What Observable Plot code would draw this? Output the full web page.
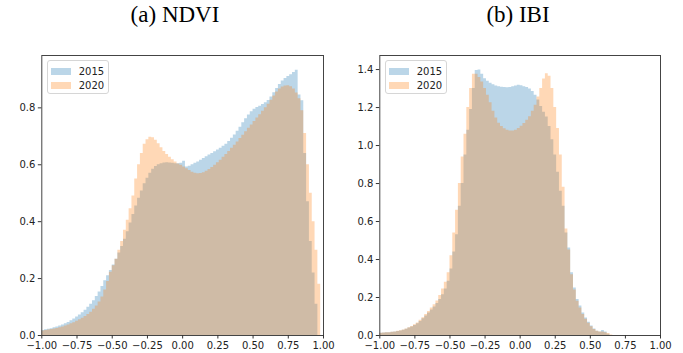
<!DOCTYPE html>
<html><head><meta charset="utf-8">
<script src="https://cdn.jsdelivr.net/npm/d3@7"></script>
<script src="https://cdn.jsdelivr.net/npm/@observablehq/plot@0.6"></script>
<style>
body{margin:0;background:#fff;}
#root{position:relative;width:683px;height:353px;overflow:hidden;}
.title{position:absolute;top:2px;font-family:"Liberation Serif",serif;font-size:23px;color:#000;transform:translateX(-50%);white-space:nowrap;}
.panel{position:absolute;top:45px;}
.legend{position:absolute;box-sizing:border-box;width:62px;height:34px;background:rgba(255,255,255,0.8);border:1px solid #d6d6d6;border-radius:3px;font-family:"DejaVu Sans",sans-serif;font-size:10px;color:#222;}
.item{position:absolute;left:3px;height:10px;display:flex;align-items:center;}
.sw{width:20px;height:7px;margin-right:8px;}
</style>
</head><body>
<div id="root"></div>
<script>
// ---- data ----
const panelTitles = ["(a) NDVI", "(b) IBI"];
const seriesNames = ["2015", "2020"];
const binRange = [-1, 1];           // 100 bins of width 0.02
const xTicks = [-1, -0.75, -0.5, -0.25, 0, 0.25, 0.5, 0.75, 1];
const yTicksNDVI = [0, 0.2, 0.4, 0.6, 0.8];
const yTicksIBI = [0, 0.2, 0.4, 0.6, 0.8, 1.0, 1.2, 1.4];
const yMaxNDVI = 0.984;
const yMaxIBI = 1.474;

const ndvi2015 = [
0.018,0.020,0.022,0.024,0.027,0.030,0.033,0.037,0.041,0.046,
0.052,0.058,0.065,0.072,0.080,0.089,0.099,0.110,0.122,0.137,
0.153,0.172,0.192,0.210,0.228,0.248,0.268,0.290,0.313,0.338,
0.365,0.395,0.425,0.455,0.482,0.508,0.533,0.553,0.570,0.584,
0.594,0.600,0.604,0.606,0.607,0.606,0.605,0.604,0.604,0.605,
0.612,0.592,0.595,0.600,0.605,0.610,0.616,0.622,0.628,0.634,
0.640,0.646,0.652,0.658,0.665,0.672,0.682,0.693,0.705,0.718,
0.732,0.748,0.762,0.775,0.786,0.795,0.801,0.806,0.812,0.818,
0.826,0.838,0.853,0.868,0.882,0.894,0.903,0.910,0.916,0.924,
0.932,0.845,0.825,0.640,0.470,0.330,0.220,0.110,0,0];

const ndvi2020 = [
0.016,0.018,0.019,0.021,0.023,0.025,0.027,0.030,0.033,0.037,
0.041,0.045,0.050,0.055,0.061,0.067,0.074,0.082,0.092,0.104,
0.118,0.135,0.160,0.190,0.222,0.245,0.268,0.300,0.330,0.370,
0.405,0.445,0.490,0.550,0.600,0.640,0.672,0.688,0.697,0.695,
0.686,0.674,0.660,0.647,0.636,0.626,0.618,0.610,0.603,0.598,
0.592,0.586,0.580,0.574,0.570,0.568,0.569,0.572,0.577,0.583,
0.590,0.598,0.607,0.616,0.626,0.636,0.647,0.658,0.669,0.680,
0.692,0.704,0.716,0.728,0.740,0.752,0.764,0.776,0.788,0.800,
0.813,0.827,0.842,0.856,0.866,0.873,0.877,0.878,0.874,0.866,
0.852,0.832,0.790,0.710,0.600,0.500,0.400,0.300,0.180,0];

const ibi2015 = [
0.012,0.013,0.014,0.015,0.017,0.019,0.021,0.024,0.028,0.033,
0.039,0.045,0.052,0.062,0.074,0.088,0.102,0.118,0.134,0.150,
0.168,0.190,0.215,0.245,0.285,0.350,0.440,0.530,0.680,0.800,
0.950,1.080,1.190,1.300,1.395,1.398,1.375,1.352,1.338,1.328,
1.320,1.313,1.310,1.307,1.305,1.304,1.305,1.309,1.314,1.318,
1.315,1.310,1.305,1.297,1.285,1.265,1.240,1.205,1.175,1.150,
1.100,1.030,0.950,0.860,0.760,0.680,0.540,0.460,0.330,0.250,
0.190,0.155,0.118,0.092,0.070,0.050,0.034,0.022,0.018,0.026,
0.018,0.006,0,0,0,0,0,0,0,0,
0,0,0,0,0,0,0,0,0,0];

const ibi2020 = [
0.012,0.013,0.014,0.015,0.017,0.019,0.022,0.025,0.029,0.034,
0.041,0.048,0.056,0.066,0.080,0.094,0.110,0.126,0.145,0.162,
0.182,0.210,0.245,0.280,0.330,0.420,0.540,0.660,0.800,0.940,
1.060,1.200,1.300,1.375,1.375,1.358,1.335,1.300,1.265,1.225,
1.180,1.145,1.118,1.100,1.088,1.080,1.076,1.077,1.080,1.090,
1.102,1.116,1.133,1.152,1.180,1.212,1.255,1.300,1.350,1.378,
1.365,1.300,1.200,1.090,0.950,0.780,0.560,0.450,0.320,0.240,
0.180,0.145,0.110,0.085,0.064,0.046,0.032,0.022,0.018,0.018,
0.014,0.010,0.003,0,0,0,0,0,0,0,
0,0,0,0,0,0,0,0,0,0];

const colors = ["#1f77b4", "#ff7f0e"];

// ---- build ----
function steps(vals) {
  const [lo, hi] = binRange, w = (hi - lo) / vals.length;
  const pts = vals.map((v, i) => ({x: lo + i * w, y: v}));
  pts.push({x: hi, y: 0});
  return pts;
}
const fmtX = d3.format(".2f"), fmtY = d3.format(".1f");

function panel(s1, s2, yMax, yTicks, width, ml, mr) {
  return Plot.plot({
    width, height: 308, marginLeft: ml, marginRight: mr, marginTop: 10, marginBottom: 18,
    x: {domain: [-1, 1]},
    y: {domain: [0, yMax]},
    style: {fontFamily: "DejaVu Sans", fontSize: "10px", color: "#222", background: "transparent", overflow: "visible"},
    marks: [
      Plot.areaY(steps(s1), {x: "x", y: "y", curve: "step-after", fill: colors[0], fillOpacity: 0.3}),
      Plot.areaY(steps(s2), {x: "x", y: "y", curve: "step-after", fill: colors[1], fillOpacity: 0.3}),
      Plot.frame({stroke: "#444", strokeWidth: 1}),
      Plot.axisX({ticks: xTicks, tickFormat: fmtX, tickSize: 3.5, tickPadding: 3, label: null, stroke: "#333"}),
      Plot.axisY({ticks: yTicks, tickFormat: fmtY, tickSize: 3.5, tickPadding: 3, label: null, stroke: "#333"})
    ]
  });
}

const root = document.getElementById("root");
const cfg = [
  {title: panelTitles[0], cx: 175, left: 0, width: 340, ml: 41.3, mr: 17, s: [ndvi2015, ndvi2020], ymax: yMaxNDVI, yt: yTicksNDVI},
  {title: panelTitles[1], cx: 518, left: 340, width: 343, ml: 39.3, mr: 23, s: [ibi2015, ibi2020], ymax: yMaxIBI, yt: yTicksIBI}
];
for (const c of cfg) {
  const t = document.createElement("div");
  t.className = "title"; t.style.left = c.cx + "px"; t.textContent = c.title;
  root.appendChild(t);
  const p = document.createElement("div");
  p.className = "panel"; p.style.left = c.left + "px";
  p.appendChild(panel(c.s[0], c.s[1], c.ymax, c.yt, c.width, c.ml, c.mr));
  root.appendChild(p);
  const lg = document.createElement("div");
  lg.className = "legend";
  lg.style.left = (c.left + c.ml + 5.4) + "px";
  lg.style.top = (45 + 10 + 5) + "px";
  seriesNames.forEach((name, i) => {
    const it = document.createElement("div");
    it.className = "item"; it.style.top = (5 + i * 14.5) + "px";
    const sw = document.createElement("span");
    sw.className = "sw"; sw.style.background = colors[i]; sw.style.opacity = 0.3;
    const tx = document.createElement("span"); tx.textContent = name;
    it.appendChild(sw); it.appendChild(tx);
    lg.appendChild(it);
  });
  root.appendChild(lg);
}
</script>
</body></html>
